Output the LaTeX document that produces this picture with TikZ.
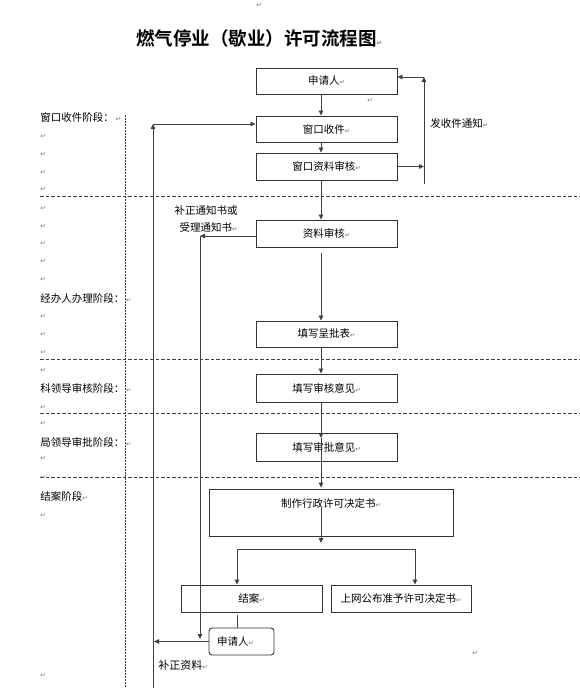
\documentclass[tikz,border=0pt]{standalone}
\usepackage{fontspec}
\setmainfont{Noto Sans CJK SC}[BoldFont=* Bold]
\newfontfamily\dvfont{DejaVu Sans}
\usetikzlibrary{arrows.meta,calc}
\newcommand\pmk{{\dvfont\fontsize{6.5}{7}\selectfont\color{black!55}↵}}
\begin{document}
\begin{tikzpicture}[x=1pt,y=-1pt,
  line width=0.8pt,
  box/.style={draw=black!80, line width=0.9pt, minimum width=141pt, minimum height=26pt, inner sep=0pt, font=\fontsize{10.5}{12}\selectfont},
  arr/.style={draw=black!75, -{Triangle[length=5pt,width=4.5pt]}},
  ln/.style={draw=black!75},
  stage/.style={anchor=west, inner sep=0pt, font=\fontsize{10.5}{12}\selectfont},
  lbl/.style={inner sep=0pt, font=\fontsize{10.5}{12}\selectfont},
  pmark/.style={inner sep=0pt},
  sep/.style={draw=black!75, dash pattern=on 3.5pt off 2pt, line width=0.8pt},
  vsep/.style={draw=black!75, dash pattern=on 1.5pt off 1.5pt, line width=0.8pt}
]
\useasboundingbox (0,0) rectangle (580,688);
\fill[white] (0,0) rectangle (580,688);

% title
\node[inner sep=0pt, font=\fontsize{18.5}{20}\selectfont\bfseries] (title) at (259,38) {燃气停业（歇业）许可流程图\pmk};
\node[pmark] (m0) at (259,5) {\pmk};

% separators
\coordinate (s1a) at (40,196); \coordinate (s1b) at (580,196);
\coordinate (s2a) at (40,359); \coordinate (s2b) at (580,359);
\coordinate (s3a) at (40,413); \coordinate (s3b) at (580,413);
\coordinate (s4a) at (40,477); \coordinate (s4b) at (580,477);
\coordinate (va) at (125,115); \coordinate (vb) at (125,688);
\draw[sep] (s1a) -- (s1b);
\draw[sep] (s2a) -- (s2b);
\draw[sep] (s3a) -- (s3b);
\draw[sep] (s4a) -- (s4b);
\draw[vsep] (va) -- (vb);

% stage labels
\node[stage] (st1) at (40,117) {窗口收件阶段：\,\pmk};
\node[stage] (st2) at (40,298) {经办人办理阶段：\,\pmk};
\node[stage] (st3) at (40,388) {科领导审核阶段：\,\pmk};
\node[stage] (st4) at (40,442) {局领导审批阶段：\,\pmk};
\node[stage] (st5) at (40,496) {结案阶段\pmk};

% left paragraph marks
\foreach \yy [count=\i] in {136,154,172,189,208,226,243,261,279,316,334,352,370,407,423,458,477,515,675}
  \node[pmark] (lm\i) at (43,\yy) {\pmk};
\node[pmark] (m1) at (370,100) {\pmk};
\node[pmark] (m2) at (475,653) {\pmk};

% boxes
\node[box] (shen) at (326.5,81) {申请人\pmk};
\node[box] (ck) at (326.5,129) {窗口收件\pmk};
\node[box, minimum height=27pt] (cksh) at (326.5,166.5) {窗口资料审核\pmk};
\node[box, minimum height=27pt] (zlsh) at (326.5,233.5) {资料审核\pmk};
\node[box] (tx1) at (326.5,334) {填写呈批表\pmk};
\node[box, minimum height=28pt] (tx2) at (326.5,388) {填写审核意见\pmk};
\node[box, minimum height=28pt] (tx3) at (326.5,447) {填写审批意见\pmk};
\node[box, minimum width=244pt, minimum height=47pt] (zz) at (331,512.5) {};
\node[inner sep=0pt, font=\fontsize{10.5}{12}\selectfont] (zzt) at (331,503) {制作行政许可决定书\pmk};
\node[box, minimum height=27pt] (ja) at (251.5,598.5) {结案\pmk};
\node[box, minimum width=140pt, minimum height=27pt] (sw) at (401,598.5) {上网公布准予许可决定书\pmk};
\node[box, minimum width=65pt, minimum height=27pt, rounded corners=3pt, text width=49pt, align=left, inner xsep=8pt] (sq2) at (241.5,641.5) {\fontsize{10.5}{12}\selectfont 申请人\pmk};

% labels
\node[lbl, anchor=west] (fs) at (430,124) {发收件通知\pmk};
\node[lbl, align=center, font=\fontsize{10.5}{17}\selectfont] (bz) at (206,218.5) {补正通知书或\\\hspace*{5pt}受理通知书\pmk};
\node[lbl, anchor=west, font=\fontsize{11}{12}\selectfont] (bzzl) at (158,665) {补正资料\pmk};

% main flow
\coordinate (mx) at (321,0);
\draw[arr] (shen.south -| mx) -- (ck.north -| mx);
\draw[arr] (ck.south -| mx) -- (cksh.north -| mx);
\draw[arr] (cksh.south -| mx) -- (zlsh.north -| mx);
\draw[arr] ($(zlsh.south -| mx)+(0,6)$) -- (tx1.north -| mx);
\draw[arr] (tx1.south -| mx) -- (tx2.north -| mx);
\coordinate (t3in) at (321,438);
\draw[arr] (tx2.south -| mx) -- (t3in);
\draw[arr] (t3in) -- ($(zz.north -| mx)+(0,-1)$);
\coordinate (zin) at (321,508);
\coordinate (zout) at (321,543);
\draw[arr] (zin) -- (zout);
\coordinate (bl) at (237,549); \coordinate (br) at (415,549);
\draw[ln] (bl) -- (br);
\draw[arr] (bl) -- (bl |- ja.north);
\draw[arr] (br) -- (br |- sw.north);
\draw[ln] ($(ja.south -| bl)+(0,3)$) -- (sq2.north -| bl);

% right feedback
\coordinate (r1) at (424,166.5); \coordinate (r2) at (424,184); \coordinate (r3) at (424,77);
\draw[arr] (cksh.east) -- (r1);
\draw[arr] (r2) -- (r3);
\draw[arr] (r3) -- (r3 -| shen.east);

% left return (补正资料)
\coordinate (lb) at (153,688); \coordinate (lt) at (153,124);
\draw[arr] (sq2.west) -- ($(sq2.west -| lb)+(1,0)$);
\draw[arr] (lb) -- (lt);
\draw[arr] (lt) -- (lt -| ck.west);

% notice line
\coordinate (n1) at (200,236); \coordinate (n2) at (200,639);
\draw[arr] (zlsh.west |- n1) -- (n1);
\draw[arr] (n1) -- (n2);
\end{tikzpicture}
\end{document}
